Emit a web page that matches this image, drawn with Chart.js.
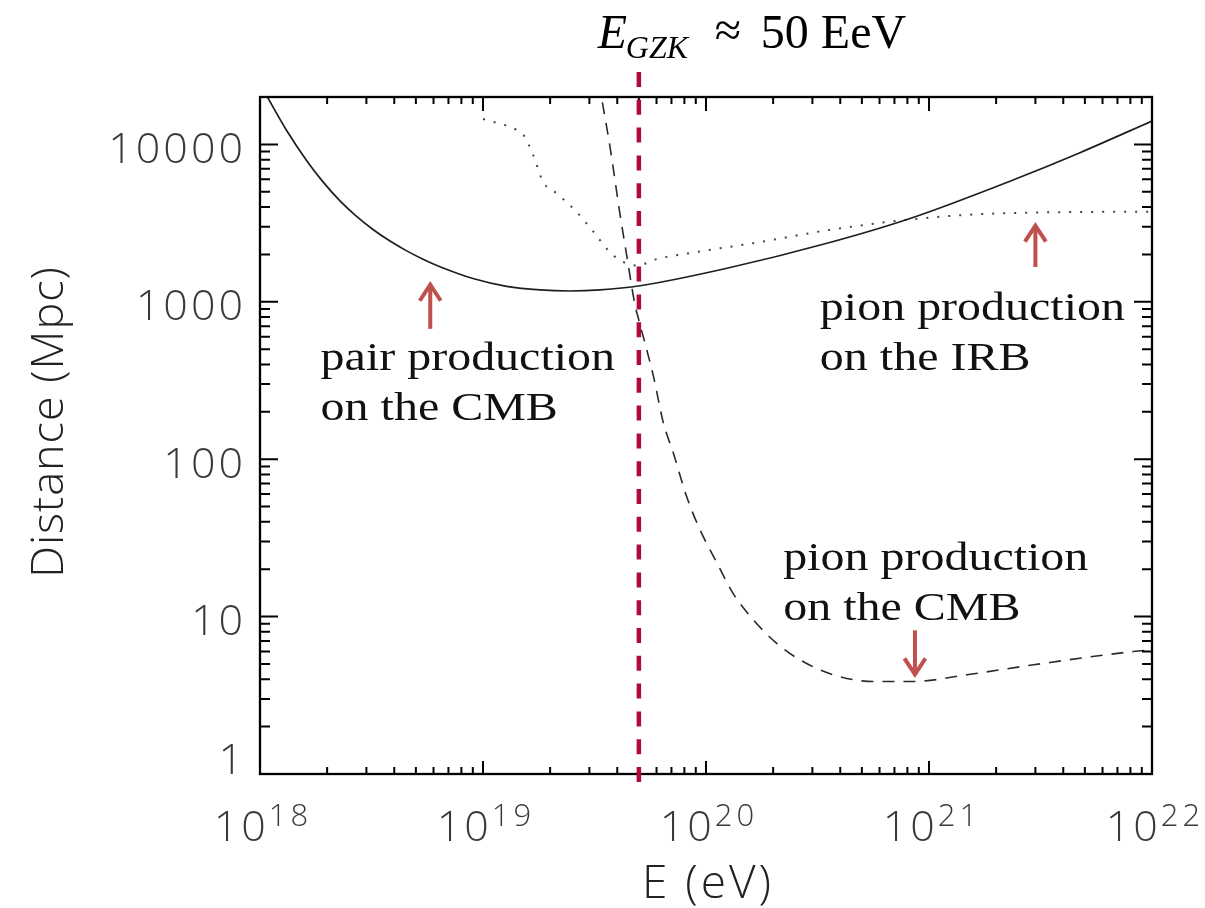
<!DOCTYPE html>
<html>
<head>
<meta charset="utf-8">
<script src="https://cdn.jsdelivr.net/npm/chart.js@4.4.1/dist/chart.umd.min.js"></script>
<style>
  html, body { margin: 0; padding: 0; background: #fff; }
  canvas { display: block; }
</style>
</head>
<body>
<canvas id="c" width="1205" height="908"></canvas>
<script>
// Energy-loss distances of UHE protons, E in eV, distance in Mpc

// pair production on the CMB (solid)
const pairE = [1e18, 1.086e18, 1.321e18, 1.62e18, 1.917e18, 2.284e18, 2.695e18, 3.211e18, 3.828e18,
               4.549e18, 5.382e18, 6.414e18, 9.02e18, 1.277e19, 1.802e19, 2.455e19, 3.347e19,
               5.058e19, 1.242e20, 3.488e20, 8.219e20, 2.381e21, 4.754e21, 1e22];
const pairD = [24480, 19715, 12150, 7877, 5780, 4375, 3513, 2879, 2430,
               2106, 1865, 1671, 1406, 1254, 1189, 1171, 1189,
               1264, 1633, 2353, 3382, 5940, 8858, 14080];

// pion production on the IRB (dotted)
const irbE = [1.0e19, 1.42e19, 1.52e19, 1.68e19, 1.86e19, 2.14e19, 2.63e19, 3.13e19, 3.84e19,
              4.89e19, 6.11e19, 8.18e19, 1.75e20, 3.48e20, 6.90e20, 1.38e21, 3.04e21, 1e22];
const irbD = [14490, 12330, 11460, 8551, 5781, 4875, 3724, 2780, 1972,
              1702, 1879, 2023, 2399, 2844, 3243, 3548, 3690, 3741];

// pion production on the CMB (dashed)
const cmbE = [3.31e19, 3.40e19, 3.72e19, 4.11e19, 4.41e19, 4.81e19, 4.98e19, 5.81e19, 6.44e19,
              7.13e19, 8.18e19, 9.40e19, 1.12e20, 1.32e20, 1.63e20, 2.07e20, 2.64e20, 3.72e20,
              5.62e20, 8.51e20, 1.48e21, 2.94e21, 8.24e21, 1e22];
const cmbD = [25100, 19910, 9441, 3639, 1972, 946, 780, 337, 170,
              110, 58.1, 35.6, 21.9, 14.1, 9.55, 6.78, 5.31, 4.27,
              3.87, 3.87, 4.27, 4.94, 6.0, 6.15];

// axes
const xMajor = [1e18, 1e19, 1e20, 1e21, 1e22];
const xExponents = ['18', '19', '20', '21', '22'];
const yMajor = [1, 10, 100, 1000, 10000];
const yLabels = ['1', '10', '100', '1000', '10000'];
const minorSteps = [2, 3, 4, 5, 6, 7, 8, 9];

// GZK threshold
const gzkEnergy = 5e19;

// annotation arrows: energy, tail distance, tip distance
const arrowE = [5.8e18, 3.0e21, 8.65e20];
const arrowFrom = [673, 1664, 8.18];
const arrowTo = [1321, 3140, 4.17];

// annotation text: anchor energy, anchor distance (first baseline)
const noteText = [['pair production', 'on the CMB'], ['pion production', 'on the IRB'], ['pion production', 'on the CMB']];
const noteE = [1.87e18, 3.24e20, 2.22e20];
const noteD = [369, 766, 19.8];

const toPoints = (xs, ys) => xs.map((v, i) => ({ x: v, y: ys[i] }));

const LABEL_FONT = '"Open Sans", "DejaVu Sans", sans-serif';
const SERIF = '"Liberation Serif", "DejaVu Serif", serif';

const decor = {
  id: 'decor',
  afterDatasetsDraw(chart) {
    const { ctx, chartArea: a, scales: { x, y } } = chart;
    ctx.save();

    // tick marks (inward, all four sides)
    ctx.strokeStyle = '#000';
    ctx.lineWidth = 2;
    ctx.beginPath();
    xMajor.forEach((m, i) => {
      const px = x.getPixelForValue(m);
      ctx.moveTo(px, a.bottom); ctx.lineTo(px, a.bottom - 13);
      ctx.moveTo(px, a.top); ctx.lineTo(px, a.top + 14);
      if (i < xMajor.length - 1) {
        minorSteps.forEach(s => {
          const q = x.getPixelForValue(m * s);
          ctx.moveTo(q, a.bottom); ctx.lineTo(q, a.bottom - 7);
          ctx.moveTo(q, a.top); ctx.lineTo(q, a.top + 7);
        });
      }
    });
    yMajor.forEach(m => {
      const py = y.getPixelForValue(m);
      ctx.moveTo(a.left, py); ctx.lineTo(a.left + 18, py);
      ctx.moveTo(a.right, py); ctx.lineTo(a.right - 18, py);
      minorSteps.forEach(s => {
        const v = m * s;
        if (v >= y.max) return;
        const q = y.getPixelForValue(v);
        ctx.moveTo(a.left, q); ctx.lineTo(a.left + 10, q);
        ctx.moveTo(a.right, q); ctx.lineTo(a.right - 10, q);
      });
    });
    ctx.stroke();

    // frame
    ctx.lineWidth = 2.3;
    ctx.strokeRect(a.left, a.top, a.right - a.left, a.bottom - a.top);

    // y tick labels
    ctx.fillStyle = '#3a3a3a';
    ctx.font = `300 43px ${LABEL_FONT}`;
    ctx.letterSpacing = '3px';
    ctx.textAlign = 'right';
    ctx.textBaseline = 'alphabetic';
    yMajor.forEach((m, i) => {
      const py = y.getPixelForValue(m);
      ctx.fillText(yLabels[i], a.left - 14, Math.min(py + 18.5, a.bottom));
    });

    // x tick labels as powers of ten
    ctx.textAlign = 'left';
    xMajor.forEach((m, i) => {
      const px = x.getPixelForValue(m);
      ctx.letterSpacing = '3px';
      ctx.font = `300 43px ${LABEL_FONT}`;
      const w1 = ctx.measureText('10').width;
      ctx.font = `300 31px ${LABEL_FONT}`;
      ctx.letterSpacing = '4px';
      const w2 = ctx.measureText(xExponents[i]).width;
      const x0 = px - (w1 + w2) / 2 + 3;
      ctx.letterSpacing = '3px';
      ctx.font = `300 43px ${LABEL_FONT}`;
      ctx.fillText('10', x0, a.bottom + 67);
      ctx.font = `300 31px ${LABEL_FONT}`;
      ctx.letterSpacing = '4px';
      ctx.fillText(xExponents[i], x0 + w1, a.bottom + 52);
    });

    // axis titles
    ctx.fillStyle = '#222';
    ctx.textAlign = 'center';
    ctx.font = `300 46px ${LABEL_FONT}`;
    ctx.letterSpacing = '3px';
    ctx.fillText('E (eV)', (a.left + a.right) / 2 + 2, a.bottom + 124);
    ctx.save();
    ctx.translate(63, 422);
    ctx.rotate(-Math.PI / 2);
    ctx.font = `300 45px ${LABEL_FONT}`;
    ctx.letterSpacing = '1px';
    ctx.fillText('Distance (Mpc)', 0, 0);
    ctx.restore();
    ctx.letterSpacing = '0px';

    // GZK threshold line
    const gx = x.getPixelForValue(gzkEnergy);
    ctx.strokeStyle = '#b00a3b';
    ctx.lineWidth = 4.5;
    ctx.setLineDash([15, 12.8]);
    ctx.beginPath();
    ctx.moveTo(gx, 72);
    ctx.lineTo(gx, a.bottom + 9);
    ctx.stroke();
    ctx.setLineDash([]);

    // title above the threshold line
    ctx.fillStyle = '#000';
    ctx.textAlign = 'left';
    const tx = gx - 41;
    ctx.font = `italic 48px ${SERIF}`;
    ctx.fillText('E', tx, 48);
    ctx.font = `italic 32px ${SERIF}`;
    ctx.fillText('GZK', tx + 28, 58);
    ctx.font = `48px ${SERIF}`;
    ctx.textAlign = 'center';
    ctx.fillText('\u2248', tx + 130, 46);
    ctx.textAlign = 'left';
    ctx.fillText('50 EeV', tx + 163, 48);

    // arrows
    ctx.strokeStyle = '#c0504d';
    ctx.lineWidth = 4;
    ctx.lineJoin = 'miter';
    arrowE.forEach((e, i) => {
      const px = x.getPixelForValue(e);
      const y0 = y.getPixelForValue(arrowFrom[i]);
      const y1 = y.getPixelForValue(arrowTo[i]);
      const dir = y1 < y0 ? 1 : -1;   // 1: pointing up
      const tip = y1 + dir * 2;
      ctx.beginPath();
      ctx.moveTo(px, y0);
      ctx.lineTo(px, tip);
      ctx.stroke();
      ctx.beginPath();
      ctx.moveTo(px - 10.5, tip + dir * 16);
      ctx.lineTo(px, tip);
      ctx.lineTo(px + 10.5, tip + dir * 16);
      ctx.stroke();
    });

    // annotation text
    ctx.fillStyle = '#111';
    ctx.font = `41px ${SERIF}`;
    noteText.forEach((lines, i) => {
      const px = x.getPixelForValue(noteE[i]);
      const py = y.getPixelForValue(noteD[i]);
      lines.forEach((t, k) => {
        ctx.save();
        ctx.translate(px, py + k * 50);
        ctx.scale(1.17, 1);
        ctx.fillText(t, 0, 0);
        ctx.restore();
      });
    });

    ctx.restore();
  }
};

new Chart(document.getElementById('c').getContext('2d'), {
  type: 'line',
  data: {
    datasets: [
      {
        label: 'pair production on the CMB',
        data: toPoints(pairE, pairD),
        borderColor: '#1e1e1e', borderWidth: 1.7,
        pointRadius: 0, cubicInterpolationMode: 'monotone'
      },
      {
        label: 'pion production on the IRB',
        data: toPoints(irbE, irbD),
        borderColor: '#444', borderWidth: 2, borderDash: [2, 9],
        pointRadius: 0, cubicInterpolationMode: 'monotone'
      },
      {
        label: 'pion production on the CMB',
        data: toPoints(cmbE, cmbD),
        borderColor: '#2a2a2a', borderWidth: 1.6, borderDash: [12, 9],
        pointRadius: 0, cubicInterpolationMode: 'monotone'
      }
    ]
  },
  options: {
    responsive: false,
    animation: false,
    events: [],
    layout: { padding: { left: 260, top: 97, right: 53, bottom: 134 } },
    plugins: { legend: { display: false }, tooltip: { enabled: false } },
    scales: {
      x: { type: 'logarithmic', min: 1e18, max: 1e22, display: false },
      y: { type: 'logarithmic', min: 1, max: 2e4, display: false }
    }
  },
  plugins: [decor]
});
</script>
</body>
</html>
